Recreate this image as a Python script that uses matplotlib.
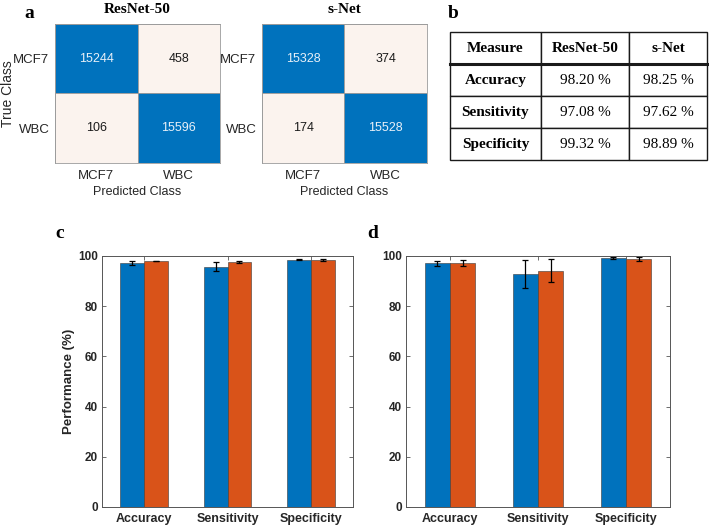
import numpy as np
import matplotlib
matplotlib.use("Agg")
import matplotlib.pyplot as plt

# confusion matrices (rows = true class, cols = predicted class)
classes = ["MCF7", "WBC"]
cm_resnet = [[15244, 458], [106, 15596]]
cm_snet = [[15328, 374], [174, 15528]]
cm_titles = ["ResNet-50", "s-Net"]

# summary table
table_header = ["Measure", "ResNet-50", "s-Net"]
table_measures = ["Accuracy", "Sensitivity", "Specificity"]
table_resnet = ["98.20 %", "97.08 %", "99.32 %"]
table_snet = ["98.25 %", "97.62 %", "98.89 %"]

# bar charts (mean and error)
measures = ["Accuracy", "Sensitivity", "Specificity"]
c_blue = [97.1, 95.8, 98.5]
c_blue_err = [0.8, 1.9, 0.2]
c_orange = [98.0, 97.6, 98.5]
c_orange_err = [0.15, 0.4, 0.4]
d_blue = [97.1, 92.7, 99.1]
d_blue_err = [1.0, 5.6, 0.3]
d_orange = [97.3, 94.2, 98.8]
d_orange_err = [1.2, 4.6, 0.8]

BLUE = "#0072BD"
ORANGE = "#D95319"
LIGHT = "#FBF3EE"
DARK = "#262626"
sans = "Liberation Sans"
serif = "Liberation Serif"

fig = plt.figure(figsize=(7.09, 5.30), dpi=100)

# ---- panel a: confusion matrices
cm_pos = [[0.0776, 0.6925, 0.2327, 0.2623], [0.3695, 0.6925, 0.2327, 0.2623]]
for k, (cm, title) in enumerate(zip([cm_resnet, cm_snet], cm_titles)):
    ax = fig.add_axes(cm_pos[k])
    cm = np.array(cm)
    n = len(classes)
    for i in range(n):
        for j in range(n):
            col = BLUE if i == j else LIGHT
            ax.add_patch(plt.Rectangle((j - 0.5, i - 0.5), 1, 1, facecolor=col,
                                       edgecolor="#9a9a9a", linewidth=0.6))
            tcol = "#E8F0F8" if i == j else "#1a1a1a"
            ax.text(j, i, str(cm[i, j]), ha="center", va="center", fontsize=9,
                    color=tcol, family=sans)
    ax.set_xlim(-0.5, n - 0.5)
    ax.set_ylim(n - 0.5, -0.5)
    ax.set_xticks(range(n))
    ax.set_yticks(range(n))
    ax.set_xticklabels(classes, family=sans, fontsize=9.5, color=DARK)
    ax.set_yticklabels(classes, family=sans, fontsize=9.5, color=DARK)
    ax.tick_params(length=0, pad=4)
    ax.tick_params(axis="x", pad=5)
    for s in ax.spines.values():
        s.set_color("#9a9a9a")
        s.set_linewidth(0.6)
    ax.set_xlabel("Predicted Class", family=sans, fontsize=9, color=DARK, labelpad=3)
    if k == 0:
        ax.set_ylabel("True Class", family=sans, fontsize=10, color=DARK)
        ax.yaxis.set_label_coords(-0.24, 0.5)
    ax.set_title(title, family=serif, fontweight="bold", fontsize=11, pad=8)

fig.text(0.034, 0.975, "a", family=serif, fontweight="bold", fontsize=14, va="center")

# ---- panel b: table
axt = fig.add_axes([0.6347, 0.6981, 0.3625, 0.2415])
axt.axis("off")
cells = [table_header] + [[m, r, s] for m, r, s in zip(table_measures, table_resnet, table_snet)]
tbl = axt.table(cellText=cells, cellLoc="center", bbox=[0, 0, 1, 1],
                colWidths=[0.354, 0.342, 0.304])
tbl.auto_set_font_size(False)
for (r, c), cell in tbl.get_celld().items():
    cell.set_linewidth(1.0)
    cell.set_edgecolor("#1a1a1a")
    bold = (r == 0) or (c == 0)
    cell.get_text().set_fontproperties(matplotlib.font_manager.FontProperties(
        family=serif, weight="bold" if bold else "normal", size=11))
axt.plot([0, 1], [0.75, 0.75], color="#1a1a1a", linewidth=2.2, transform=axt.transAxes,
         clip_on=False)
fig.text(0.631, 0.975, "b", family=serif, fontweight="bold", fontsize=14, va="center")

# ---- panels c, d: bar charts
def bar_panel(rect, blue, blue_err, orange, orange_err, ylabel):
    ax = fig.add_axes(rect)
    x = np.arange(1, len(measures) + 1)
    w = 0.286
    ax.bar(x - w / 2, blue, w, color=BLUE, edgecolor="#3a3a3a", linewidth=0.4)
    ax.bar(x + w / 2, orange, w, color=ORANGE, edgecolor="#3a3a3a", linewidth=0.4)
    ax.errorbar(x - w / 2, blue, yerr=blue_err, fmt="none", ecolor="black",
                elinewidth=0.9, capsize=2.5, capthick=0.9)
    ax.errorbar(x + w / 2, orange, yerr=orange_err, fmt="none", ecolor="black",
                elinewidth=0.9, capsize=2.5, capthick=0.9)
    ax.set_xlim(0.5, len(measures) + 0.5)
    ax.set_ylim(0, 100)
    ax.set_yticks(range(0, 101, 20))
    ax.set_xticks(x)
    ax.set_xticklabels(measures, family=sans, fontweight="bold", fontsize=9, color=DARK)
    for t in ax.get_yticklabels():
        t.set_family(sans)
        t.set_fontweight("bold")
        t.set_fontsize(8.5)
        t.set_color(DARK)
    ax.tick_params(direction="in", top=True, right=True, length=3, width=0.6,
                   color="#555555", pad=3)
    ax.tick_params(axis="x", bottom=False, pad=4)
    for s in ax.spines.values():
        s.set_color("#555555")
        s.set_linewidth(0.7)
    if ylabel:
        ax.set_ylabel(ylabel, family=sans, fontweight="bold", fontsize=9.5, color=DARK,
                      labelpad=2)
    return ax

bar_panel([0.1439, 0.0434, 0.354, 0.4736], c_blue, c_blue_err, c_orange, c_orange_err,
          "Performance (%)")
bar_panel([0.5726, 0.0434, 0.3724, 0.4736], d_blue, d_blue_err, d_orange, d_orange_err, None)

fig.text(0.078, 0.56, "c", family=serif, fontweight="bold", fontsize=14, va="center")
fig.text(0.518, 0.56, "d", family=serif, fontweight="bold", fontsize=14, va="center")

fig.savefig("out.png", dpi=100)
